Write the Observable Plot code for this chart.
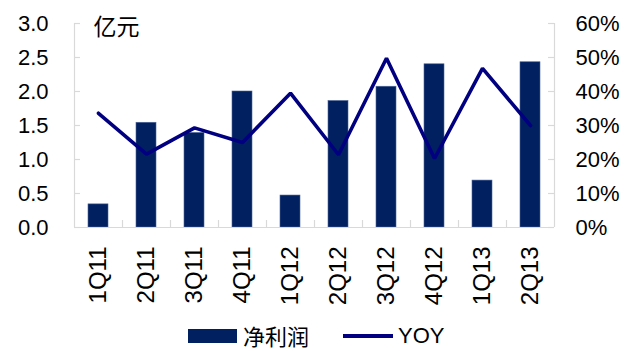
<!DOCTYPE html>
<html>
<head>
<meta charset="utf-8">
<script src="https://cdn.jsdelivr.net/npm/d3@7"></script>
<script src="https://cdn.jsdelivr.net/npm/@observablehq/plot@0.6"></script>
<style>
  html, body { margin: 0; padding: 0; background: #fff; }
  #wrap { position: relative; width: 634px; height: 351px; overflow: hidden; font-family: "Liberation Sans", Arial, sans-serif; }
  .leg { position: absolute; font-size: 22px; line-height: 22px; color: #000; }
</style>
</head>
<body>
<div id="wrap"></div>
<script>
// ---- data ----
const quarters = ["1Q11","2Q11","3Q11","4Q11","1Q12","2Q12","3Q12","4Q12","1Q13","2Q13"];
const netProfit = [0.34, 1.54, 1.39, 2.00, 0.47, 1.86, 2.07, 2.40, 0.69, 2.43]; // 亿元
const yoy = [0.336, 0.216, 0.293, 0.250, 0.395, 0.214, 0.498, 0.203, 0.468, 0.300];
const leftTicks = [0, 0.5, 1.0, 1.5, 2.0, 2.5, 3.0];
const rightTickLabels = ["0%", "10%", "20%", "30%", "40%", "50%", "60%"];
const unitLabel = "亿元";
const seriesNames = ["净利润", "YOY"];

const yoyMax = 0.6, leftMax = 3.0;
const rows = quarters.map((q, i) => ({q, v: netProfit[i], y: yoy[i] * leftMax / yoyMax}));

const barColor = "#002060", lineColor = "#000080", axisColor = "#d9d9d9";

const chart = Plot.plot({
  width: 634,
  height: 315,
  marginLeft: 74,
  marginRight: 80,
  marginTop: 23,
  marginBottom: 88,
  style: {fontFamily: "'Liberation Sans', Arial, sans-serif", fontSize: "22px", color: "#000", background: "#fff"},
  x: {domain: quarters, paddingInner: 0.58, paddingOuter: 0.29},
  y: {domain: [0, leftMax]},
  marks: [
    Plot.barY(rows, {x: "q", y: "v", fill: barColor, stroke: "#4d6496", strokeWidth: 0.6}),
    // axes lines
    Plot.ruleY([0], {stroke: axisColor, strokeWidth: 1.2}),
    Plot.ruleX([quarters[0]], {dx: -24, stroke: axisColor, strokeWidth: 1.2}),
    Plot.ruleX([quarters[quarters.length - 1]], {dx: 24, stroke: axisColor, strokeWidth: 1.2}),
    // inward category boundary ticks
    Plot.ruleX(quarters.slice(1), {dx: -24, stroke: axisColor, strokeWidth: 1.2, insetTop: 197}),
    // inward y ticks
    Plot.tickY(leftTicks, {y: d => d, stroke: axisColor, strokeWidth: 1.2, insetRight: 474}),
    Plot.tickY(leftTicks, {y: d => d, stroke: axisColor, strokeWidth: 1.2, insetLeft: 474}),
    Plot.line(rows, {x: "q", y: "y", stroke: lineColor, strokeWidth: 3.6, strokeLinejoin: "miter"}),
    Plot.axisY({anchor: "left", ticks: leftTicks, tickSize: 0, tickPadding: 26, tickFormat: d3.format(".1f"), fontSize: 22}),
    Plot.axisY({anchor: "right", ticks: leftTicks, tickSize: 0, tickPadding: 21, tickFormat: d => rightTickLabels[leftTicks.indexOf(d)], fontSize: 22, label: null}),
    Plot.axisX({tickSize: 0, tickPadding: 19, tickRotate: -90, fontSize: 24, label: null}),
    Plot.text([unitLabel], {frameAnchor: "top-left", dx: 19, dy: 4.5, lineAnchor: "middle", textAnchor: "start", fontSize: 23, fontFamily: "'Noto Sans CJK SC', sans-serif", fill: "#000"})
  ]
});

const wrap = document.getElementById("wrap");
wrap.appendChild(chart);

// legend (HTML, below chart)
function add(el) { wrap.appendChild(el); return el; }
const sw1 = add(document.createElement("div"));
Object.assign(sw1.style, {position: "absolute", left: "188px", top: "329px", width: "49px", height: "14px", background: barColor});
const t1 = add(document.createElement("div"));
t1.className = "leg"; t1.textContent = seriesNames[0];
Object.assign(t1.style, {left: "243px", top: "324px", fontFamily: "'Noto Sans CJK SC', sans-serif"});
const sw2 = add(document.createElement("div"));
Object.assign(sw2.style, {position: "absolute", left: "343px", top: "334px", width: "50px", height: "3.6px", background: lineColor});
const t2 = add(document.createElement("div"));
t2.className = "leg"; t2.textContent = seriesNames[1];
Object.assign(t2.style, {left: "398px", top: "325px"});
</script>
</body>
</html>
